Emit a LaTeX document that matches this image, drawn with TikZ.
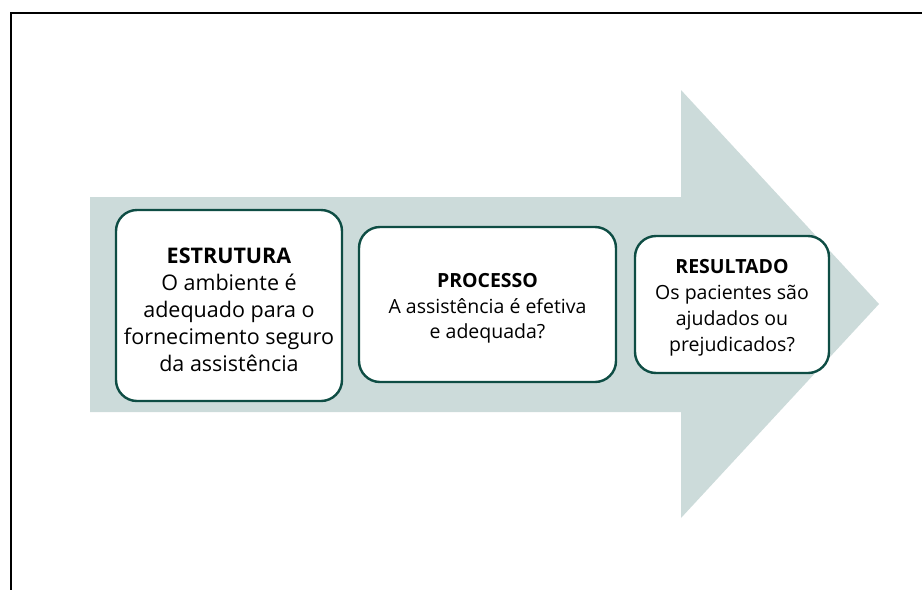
\documentclass[tikz,border=0pt]{standalone}
\usepackage{fontspec}
\setmainfont{Open Sans}
\definecolor{arrowfill}{RGB}{204,219,218}
\definecolor{boxline}{RGB}{14,77,68}
\begin{document}
\begin{tikzpicture}[x=1pt,y=-1pt,
  stagebox/.style={draw=boxline, line width=2.4pt, fill=white, rounded corners=21pt,
    inner sep=0pt},
  stagetext/.style={inner sep=0pt, align=center, font=\fontsize{19.5}{26}\selectfont},
  bigtext/.style={font=\fontsize{21.5}{27}\selectfont},
  frameline/.style={line width=2.6pt, black}]
\useasboundingbox (0,0) rectangle (922,590);
% big arrow
\path[fill=arrowfill] (90,197) -- (681,197) -- (681,90) -- (879,304) -- (681,518) -- (681,412) -- (90,412) -- cycle;
% frame (top and left only)
\coordinate (ftl) at (11,13);
\coordinate (ftr) at (922,13);
\coordinate (fbl) at (11,590);
\draw[frameline] (ftr) -- (ftl) -- (fbl);
% boxes
\node[stagebox, minimum width=226pt, minimum height=191pt] (estr) at (229,305.5) {};
\node[stagebox, minimum width=257pt, minimum height=155pt] (proc) at (487.5,304.5) {};
\node[stagebox, minimum width=194pt, minimum height=137pt] (res) at (732,304.5) {};
% texts
\node[stagetext, bigtext] (estrtxt) at ([yshift=-4pt]estr.center)
  {\textbf{ESTRUTURA}\\O ambiente é\\adequado para o\\fornecimento seguro\\da assistência};
\node[stagetext, font=\fontsize{19.5}{25.5}\selectfont] (proctxt) at ([yshift=-4pt]proc.center)
  {\textbf{PROCESSO}\\A assistência é efetiva\\e adequada?};
\node[stagetext] (restxt) at ([yshift=-3pt]res.center)
  {\textbf{RESULTADO}\\Os pacientes são\\ajudados ou\\prejudicados?};
\end{tikzpicture}
\end{document}
